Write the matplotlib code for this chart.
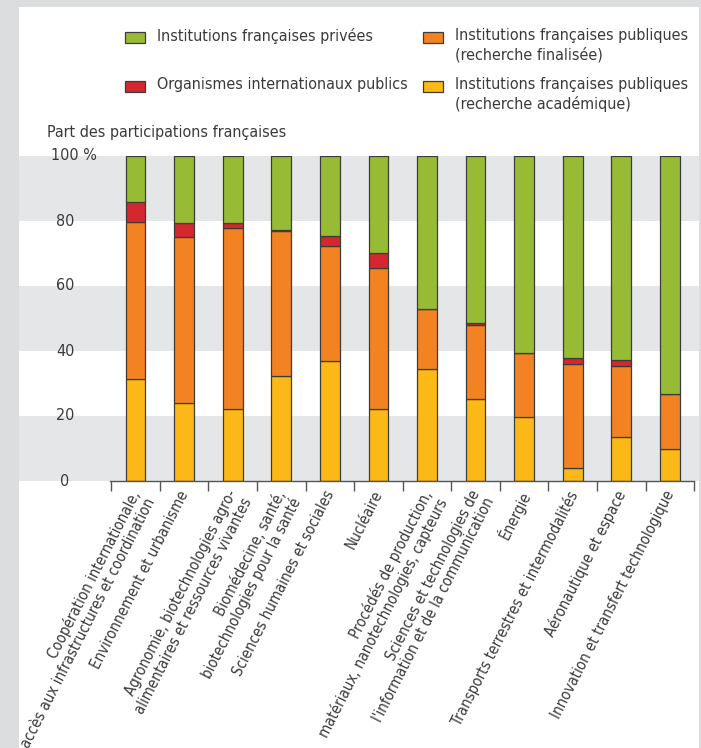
import matplotlib
matplotlib.use('Agg')
import matplotlib.pyplot as plt
from matplotlib import font_manager
from matplotlib.patches import Rectangle
from matplotlib.transforms import ScaledTranslation
import numpy as np

categories = [
    'Coopération internationale,\naccès aux infrastructures et coordination',
    'Environnement et urbanisme',
    'Agronomie, biotechnologies agro-\nalimentaires et ressources vivantes',
    'Biomédecine, santé,\nbiotechnologies pour la santé',
    'Sciences humaines et sociales',
    'Nucléaire',
    'Procédés de production,\nmatériaux, nanotechnologies, capteurs',
    'Sciences et technologies de\nl\'information et de la communication',
    'Énergie',
    'Transports terrestres et intermodalités',
    'Aéronautique et espace',
    'Innovation et transfert technologique',
]
# shares in % (bottom to top)
academique = [31.3, 24.0, 22.2, 32.3, 36.8, 22.1, 34.5, 25.1, 19.7, 4.1, 13.5, 10.0]
finalisee = [48.4, 51.0, 55.7, 44.6, 35.5, 43.5, 18.5, 22.8, 19.6, 32.0, 21.8, 16.9]
internationaux = [6.3, 4.5, 1.4, 0.4, 3.1, 4.7, 0.0, 0.8, 0.0, 1.9, 1.8, 0.0]
privees = [100 - a - f - i for a, f, i in zip(academique, finalisee, internationaux)]

yticks = [0, 20, 40, 60, 80, 100]

c_green = '#97bb34'
c_red = '#d42730'
c_orange = '#f28222'
c_yellow = '#fbb817'
c_text = '#3a3a3a'
c_edge = '#3c3c3c'

names = {f.name for f in font_manager.fontManager.ttflist}
if 'Liberation Sans Narrow' in names:
    plt.rcParams['font.family'] = 'Liberation Sans Narrow'
else:
    plt.rcParams['font.family'] = 'DejaVu Sans'
    plt.rcParams['font.stretch'] = 'condensed'
fs = 11.5
fs_lab = 10.8

W, H = 701, 748
fig = plt.figure(figsize=(W / 100, H / 100), dpi=100)
fig.patch.set_facecolor('#dcdddf')
fig.add_artist(Rectangle((19 / W, 0), 680 / W, (H - 7) / H, transform=fig.transFigure,
                         facecolor='white', edgecolor='none', zorder=-5))

ax = fig.add_axes([19 / W, (H - 481) / H, 680 / W, (481 - 156) / H])
ax.patch.set_alpha(0)
x = np.arange(len(categories))
ax.set_xlim(-2.4, 11.6)
ax.set_ylim(0, 100)

for lo in (0, 40, 80):
    ax.axhspan(lo, lo + 20, color='#e5e6e8', lw=0, zorder=0)

bw = 0.405
kw = dict(width=bw, edgecolor=c_edge, linewidth=0.9, zorder=2)
b = np.zeros(len(x))
for vals, col in [(academique, c_yellow), (finalisee, c_orange),
                  (internationaux, c_red), (privees, c_green)]:
    ax.bar(x, vals, bottom=b, color=col, **kw)
    b = b + np.array(vals)

for s in ['top', 'right', 'left']:
    ax.spines[s].set_visible(False)
ax.spines['bottom'].set_bounds(-0.53, 11.5)
ax.spines['bottom'].set_color('#555555')
ax.spines['bottom'].set_linewidth(1.0)

ax.set_xticks(x)
ax.set_xticks(np.arange(-0.5, 12), minor=True)
ax.tick_params(axis='x', which='major', length=0, pad=5)
ax.tick_params(axis='x', which='minor', length=7, width=1.0, color='#555555', direction='out')
ax.set_xticklabels(categories, rotation=63, ha='right', va='top', rotation_mode='anchor',
                   fontsize=fs_lab, color=c_text, linespacing=1.1)
off = ScaledTranslation(-6 / 100, 0, fig.dpi_scale_trans)
for lab in ax.get_xticklabels():
    lab.set_transform(lab.get_transform() + off)

ax.set_yticks([])
xl = (65 - 135.5) / 48.6
for v in yticks:
    if v == 100:
        ax.text((51 - 135.5) / 48.6, v, '100 %', ha='left', va='center', fontsize=fs, color=c_text)
    else:
        ax.text(xl, v, str(v), ha='center', va='center', fontsize=fs, color=c_text)

fig.text(47 / W, 1 - 133 / H, 'Part des participations françaises', ha='left', va='center',
         fontsize=fs, color=c_text)

# legend
legend_items = [
    (125, 37, c_green, 'Institutions françaises privées'),
    (125, 86, c_red, 'Organismes internationaux publics'),
    (423, 37, c_orange, 'Institutions françaises publiques\n(recherche finalisée)'),
    (423, 86, c_yellow, 'Institutions françaises publiques\n(recherche académique)'),
]
for px, py, col, lab in legend_items:
    fig.add_artist(Rectangle((px / W, 1 - (py + 5.5) / H), 20 / W, 11 / H, transform=fig.transFigure,
                             facecolor=col, edgecolor=c_edge, linewidth=0.9))
    fig.text((px + 32) / W, 1 - (py - 9) / H, lab, ha='left', va='top', fontsize=fs,
             color=c_text, linespacing=1.3)

fig.savefig('out.png', dpi=100, facecolor=fig.get_facecolor())
